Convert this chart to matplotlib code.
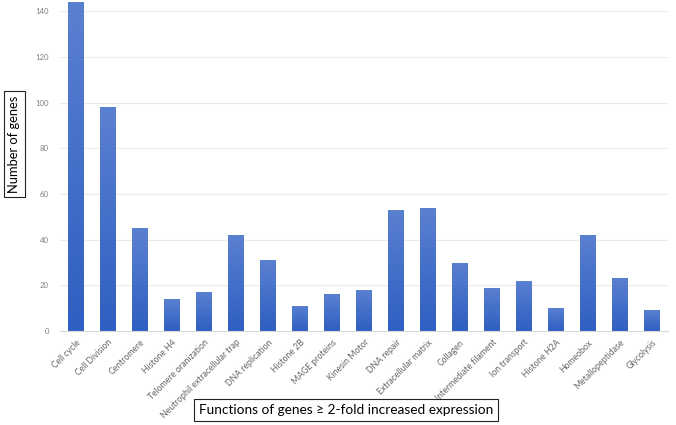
import numpy as np
import matplotlib
matplotlib.use("Agg")
from matplotlib import pyplot as plt
from matplotlib.colors import LinearSegmentedColormap

plt.rcParams["font.family"] = ["Lato", "DejaVu Sans"]

functions = ["Cell cycle", "Cell Division", "Centromere", "Histone H4",
             "Telomere oranization", "Neutrophil extracellular trap",
             "DNA replication", "Histone 2B", "MAGE proteins", "Kinesin Motor",
             "DNA repair", "Extracellular matrix", "Collagen",
             "Intermediate filament", "Ion transport", "Histone H2A",
             "Homeobox", "Metallopeptidase", "Glycolysis"]
genes = [144, 98, 45, 14, 17, 42, 31, 11, 16, 18, 53, 54, 30, 19, 22, 10, 42, 23, 9]
yticks = [0, 20, 40, 60, 80, 100, 120, 140]

fig = plt.figure(figsize=(6.76, 4.25), dpi=100)
ax = fig.add_axes([60 / 676, 94 / 425, 608 / 676, 331 / 425])

x = np.arange(len(genes))
bars = ax.bar(x, genes, width=0.5, color="none", edgecolor="none", zorder=2)

# vertical gradient in each bar, lighter at the top
cmap = LinearSegmentedColormap.from_list("bar", ["#2f5fc3", "#5a80d0"])
grad = np.linspace(0, 1, 256).reshape(-1, 1)
for b in bars:
    x0, w, h = b.get_x(), b.get_width(), b.get_height()
    im = ax.imshow(grad, cmap=cmap, origin="lower", aspect="auto",
                   extent=[x0, x0 + w, 0, h], zorder=2)
    im.set_clip_path(b)

ax.set_xlim(-0.5, len(genes) - 0.5)
ax.set_ylim(0, 145)
ax.set_yticks(yticks)
ax.set_xticks(x)
ax.set_xticklabels(functions, rotation=45, ha="right", rotation_mode="anchor",
                   fontsize=6.2, color="#666666")
ax.tick_params(axis="y", labelsize=5.6, labelcolor="#808080", length=0, pad=8)
ax.tick_params(axis="x", length=0, pad=5)
ax.yaxis.grid(True, color="#ebebeb", linewidth=0.8, zorder=0)
ax.set_axisbelow(True)
for s in ["top", "right", "left"]:
    ax.spines[s].set_visible(False)
ax.spines["bottom"].set_color("#d9d9d9")
ax.spines["bottom"].set_linewidth(0.8)

box = dict(boxstyle="square,pad=0.35", facecolor="white", edgecolor="#222222", linewidth=0.8)
fig.text(14.5 / 676, 1 - 144 / 425, "Number of genes", rotation=90, ha="center", va="center",
         fontsize=9.3, bbox=box)
fig.text(346 / 676, 1 - 410 / 425, "Functions of genes \u2265 2-fold increased expression",
         ha="center", va="center", fontsize=9.8, bbox=box)

plt.savefig("out.png", dpi=100)
